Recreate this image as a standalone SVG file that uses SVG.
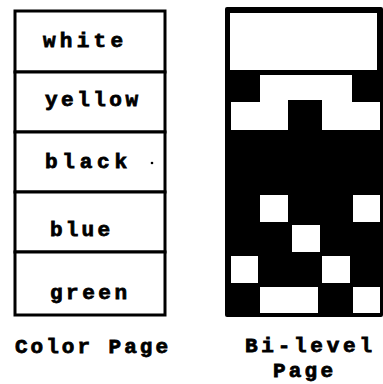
<svg xmlns="http://www.w3.org/2000/svg" width="383" height="384" viewBox="0 0 383 384">
<style>
  .lbl{font-family:"Liberation Mono","DejaVu Sans Mono",monospace;font-weight:bold;font-size:21px;fill:#000;stroke:#000;stroke-width:0.8}
  .cell{fill:#fff;stroke:#000;stroke-width:3}
  .wh{fill:#fff}
</style>
<rect x="0" y="0" width="383" height="384" fill="#fff"/>
<g id="color-page">
  <g id="row-white"><rect class="cell" x="15" y="11" width="150" height="61"/><text class="lbl" x="43" y="47" textLength="80" lengthAdjust="spacing">white</text></g>
  <g id="row-yellow"><rect class="cell" x="15" y="72" width="150" height="60"/><text class="lbl" x="45" y="106" textLength="93" lengthAdjust="spacing">yellow</text></g>
  <g id="row-black"><rect class="cell" x="15" y="132" width="150" height="60"/><text class="lbl" x="45" y="168" textLength="82" lengthAdjust="spacing">black</text><circle cx="152" cy="163" r="1.3" fill="#000"/></g>
  <g id="row-blue"><rect class="cell" x="15" y="192" width="150" height="60"/><text class="lbl" x="50" y="236" textLength="60" lengthAdjust="spacing">blue</text></g>
  <g id="row-green"><rect class="cell" x="15" y="252" width="150" height="63"/><text class="lbl" x="50" y="299" textLength="77" lengthAdjust="spacing">green</text></g>
  <text id="label-color" class="lbl" x="15" y="353" textLength="153" lengthAdjust="spacing">Color Page</text>
</g>
<g id="bilevel-page">
  <rect x="225" y="7" width="158" height="310" rx="2" fill="#000"/>
  <rect class="wh" x="230" y="13" width="147" height="57"/>
  <path class="wh" d="M260,75 H352 V102 H380 V130 H322 V100 H288 V130 H231 V102 H260 Z"/>
  <rect class="wh" x="260" y="195" width="28" height="27"/>
  <rect class="wh" x="353" y="195" width="27" height="27"/>
  <rect class="wh" x="292" y="225" width="28" height="27"/>
  <rect class="wh" x="231" y="256" width="27" height="27"/>
  <rect class="wh" x="322" y="256" width="28" height="27"/>
  <rect class="wh" x="260" y="287" width="58" height="26"/>
  <rect class="wh" x="353" y="287" width="27" height="26"/>
  <text id="label-bilevel" class="lbl" x="245" y="352" textLength="127" lengthAdjust="spacing">Bi-level</text>
  <text id="label-page" class="lbl" x="273" y="377" textLength="60" lengthAdjust="spacing">Page</text>
</g>
</svg>
